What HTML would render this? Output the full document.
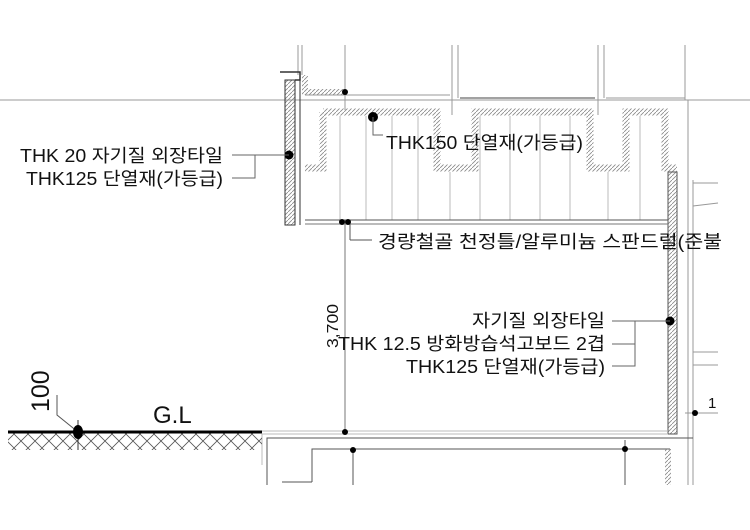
<!DOCTYPE html>
<html><head><meta charset="utf-8"><style>
html,body{margin:0;padding:0;background:#fff;width:750px;height:530px;overflow:hidden}
text{font-family:"Liberation Sans","Noto Sans CJK KR",sans-serif;fill:#111}
</style></head><body>
<svg width="750" height="530" viewBox="0 0 750 530" xmlns="http://www.w3.org/2000/svg">
<defs>
<pattern id="h" width="4" height="4" patternUnits="userSpaceOnUse"><path d="M0 4L4 0" stroke="#888" stroke-width="0.8"/></pattern>
<pattern id="g" width="14" height="14" patternUnits="userSpaceOnUse"><path d="M0 14L14 0M0 0L14 14" stroke="#555" stroke-width="0.8"/></pattern>
</defs>
<g stroke="#999" stroke-width="1" fill="none">
<line x1="0" y1="100" x2="750" y2="100"/>
<line x1="298" y1="45" x2="298" y2="75"/><line x1="302" y1="45" x2="302" y2="75"/>
<line x1="345" y1="45" x2="345" y2="110"/>
<line x1="452" y1="45" x2="452" y2="115"/><line x1="458" y1="45" x2="458" y2="98"/>
<line x1="598" y1="45" x2="598" y2="115"/><line x1="604" y1="45" x2="604" y2="98"/>
<line x1="685" y1="45" x2="685" y2="100"/>
<line x1="688" y1="100" x2="688" y2="485"/><line x1="693" y1="180" x2="693" y2="485"/>
<line x1="693" y1="183" x2="718" y2="183"/><line x1="693" y1="206" x2="718" y2="203"/>
<line x1="693" y1="352" x2="718" y2="352"/><line x1="693" y1="365" x2="718" y2="365"/>
<line x1="685" y1="413" x2="718" y2="413"/>
<line x1="305" y1="95" x2="450" y2="95"/>
<line x1="460" y1="98" x2="595" y2="98" stroke="#444"/>
<line x1="606" y1="98" x2="685" y2="98"/>
</g>
<path d="M323 112H437V168H475V112H590V168H626V112H665V168H677" fill="none" stroke="url(#h)" stroke-width="7"/>
<path d="M323 112V168H305" fill="none" stroke="url(#h)" stroke-width="7"/>
<path d="M305 75V92H345" fill="none" stroke="url(#h)" stroke-width="6"/>
<g stroke="#aaa" stroke-width="0.8">
<line x1="340" y1="116" x2="340" y2="220"/><line x1="366" y1="116" x2="366" y2="220"/><line x1="392" y1="116" x2="392" y2="220"/><line x1="418" y1="116" x2="418" y2="220"/><line x1="450" y1="172" x2="450" y2="220"/><line x1="480" y1="116" x2="480" y2="220"/><line x1="510" y1="116" x2="510" y2="220"/><line x1="540" y1="116" x2="540" y2="220"/><line x1="570" y1="116" x2="570" y2="220"/><line x1="608" y1="172" x2="608" y2="220"/><line x1="640" y1="116" x2="640" y2="220"/>
</g>
<rect x="285" y="80" width="10" height="145" fill="url(#h)" stroke="#333" stroke-width="1"/>
<path d="M280 72H300V80H295" fill="none" stroke="#333" stroke-width="1.5"/>
<line x1="300" y1="80" x2="300" y2="225" stroke="#333"/>
<rect x="668" y="172" width="9" height="262" fill="url(#h)" stroke="#555" stroke-width="1"/>
<line x1="305" y1="220" x2="668" y2="220" stroke="#555" stroke-width="1"/>
<line x1="305" y1="224" x2="668" y2="224" stroke="#777" stroke-width="1"/>
<line x1="345" y1="224" x2="345" y2="432" stroke="#777"/>
<line x1="350" y1="224" x2="350" y2="240" stroke="#555"/><line x1="350" y1="240" x2="372" y2="240" stroke="#555"/>
<line x1="262" y1="431" x2="668" y2="431" stroke="#bbb" stroke-width="1"/>
<line x1="262" y1="434" x2="668" y2="434" stroke="#bbb" stroke-width="1"/>
<path d="M267 485V438H693" fill="none" stroke="#555" stroke-width="1"/>
<line x1="262" y1="434" x2="262" y2="465" stroke="#bbb"/>
<path d="M312 482H282M312 482V449H670" fill="none" stroke="#555" stroke-width="1"/>
<line x1="353" y1="449" x2="353" y2="485" stroke="#555"/>
<line x1="625" y1="440" x2="625" y2="485" stroke="#555"/>
<line x1="668" y1="449" x2="668" y2="485" stroke="url(#h)" stroke-width="6"/>
<rect x="8" y="433" width="254" height="17" fill="url(#g)"/>
<line x1="8" y1="432" x2="262" y2="432" stroke="#000" stroke-width="3"/>
<path d="M57 395V415L78 432" fill="none" stroke="#555"/>
<line x1="78" y1="420" x2="78" y2="450" stroke="#333"/>
<ellipse cx="78" cy="432" rx="5" ry="7" fill="#000"/>
<g fill="#000">
<circle cx="345" cy="92" r="3"/><circle cx="373" cy="117" r="5"/>
<circle cx="342" cy="222" r="3"/><circle cx="348" cy="222" r="3"/>
<circle cx="289" cy="155" r="4.5"/><circle cx="670" cy="321" r="4.5"/>
<circle cx="345" cy="432" r="3"/><circle cx="353" cy="450" r="3"/><circle cx="625" cy="449" r="3"/>
<circle cx="695" cy="413" r="3"/>
</g>
<g stroke="#666" fill="none" stroke-width="1">
<path d="M232 155H289M255 155V178H232"/>
<path d="M373 117V135H383"/>
<path d="M612 321H670M635 321V366H612M612 344H635"/>
</g>
<g font-size="18" lengthAdjust="spacingAndGlyphs">
<text x="20" y="162" textLength="203" lengthAdjust="spacingAndGlyphs">THK 20 자기질 외장타일</text>
<text x="26" y="185" textLength="197" lengthAdjust="spacingAndGlyphs">THK125 단열재(가등급)</text>
<text x="386" y="149" textLength="197" lengthAdjust="spacingAndGlyphs">THK150 단열재(가등급)</text>
<text x="378" y="248" textLength="344" lengthAdjust="spacingAndGlyphs">경량철골 천정틀/알루미늄 스판드럴(준불</text>
<text x="472" y="327" textLength="133" lengthAdjust="spacingAndGlyphs">자기질 외장타일</text>
<text x="338" y="350" textLength="267" lengthAdjust="spacingAndGlyphs">THK 12.5 방화방습석고보드 2겹</text>
<text x="406" y="373" textLength="199" lengthAdjust="spacingAndGlyphs">THK125 단열재(가등급)</text>
<text x="708" y="408" font-size="15">1</text>
</g>
<text transform="translate(338,348) rotate(-90)" font-size="16" textLength="44" lengthAdjust="spacingAndGlyphs">3,700</text>
<text transform="translate(49,412) rotate(-90)" font-size="25">100</text>
<text x="153" y="423" font-size="24">G.L</text>
</svg>
</body></html>
